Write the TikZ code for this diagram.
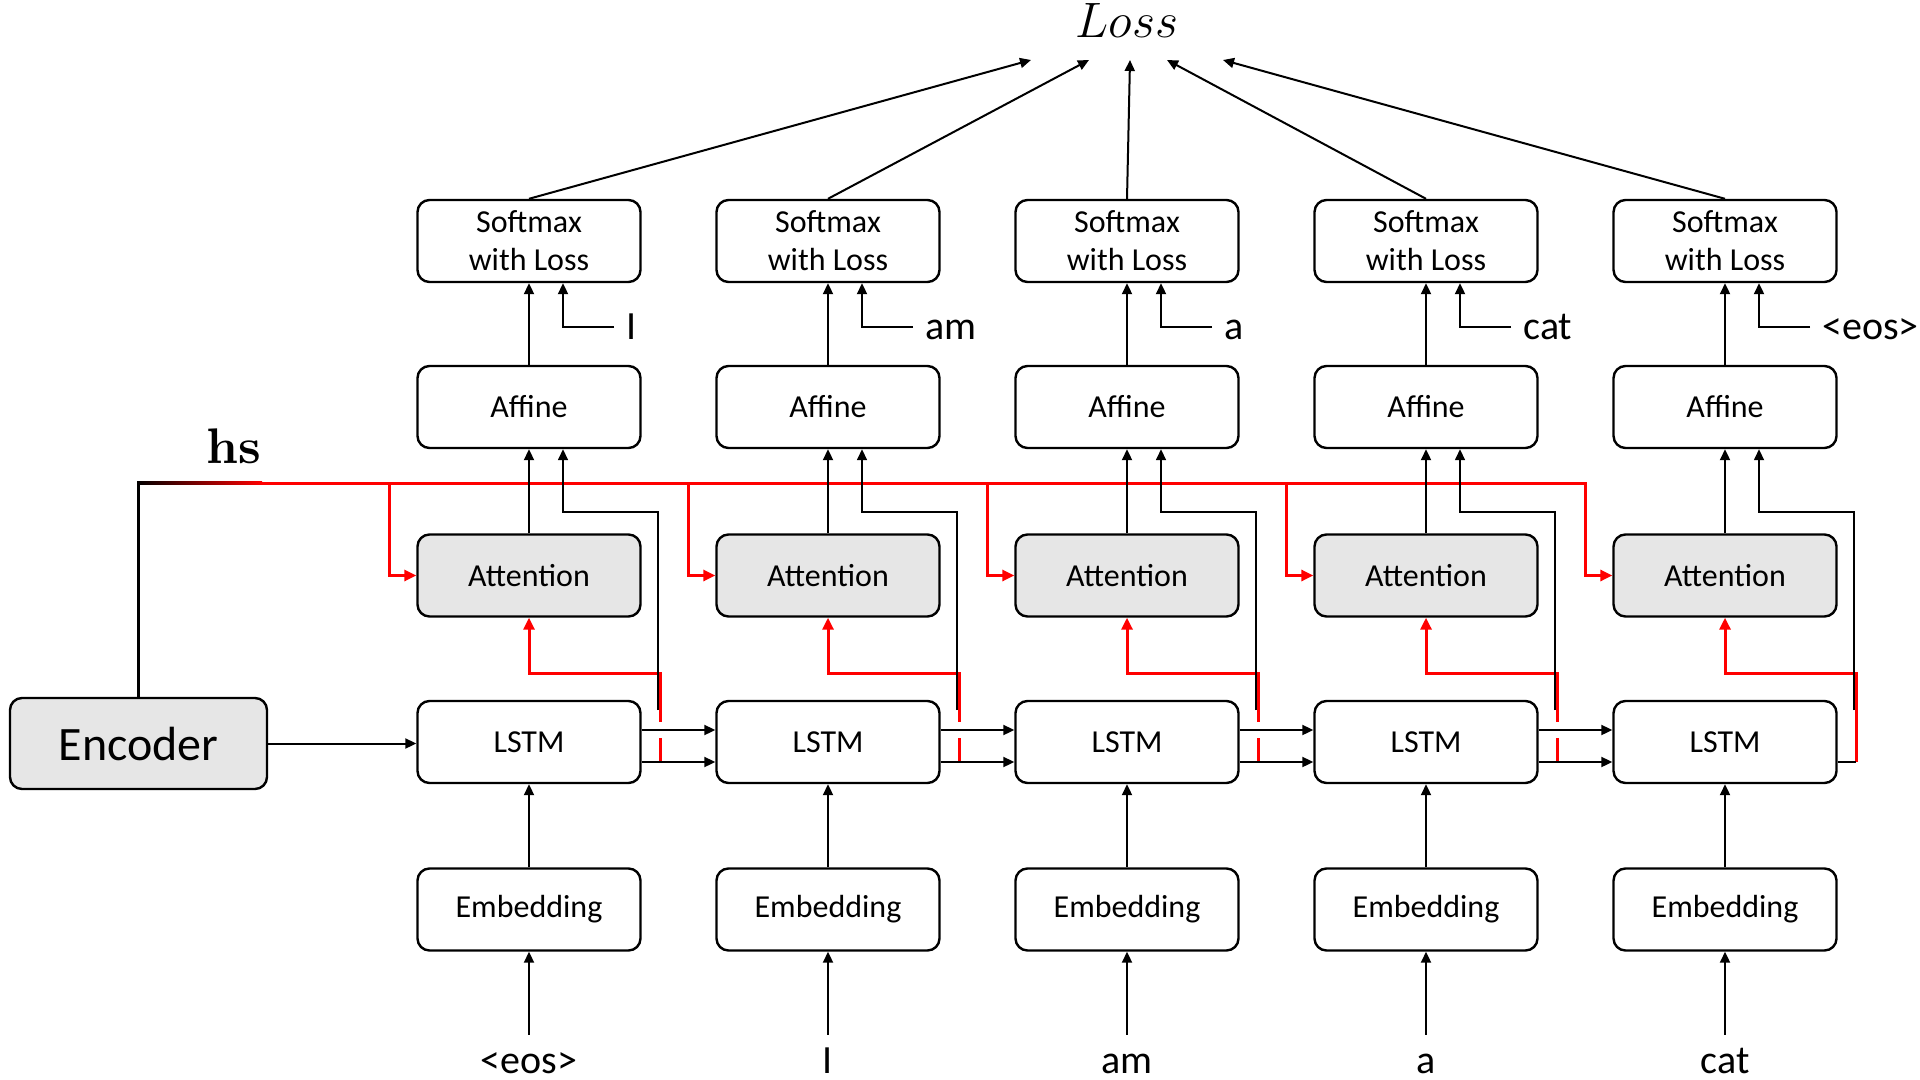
\documentclass[tikz,border=0pt]{standalone}
\usepackage[no-math]{fontspec}
\setmainfont{Carlito}
\newfontfamily\hsfont{lmroman10-bold.otf}
\usetikzlibrary{arrows.meta}

\definecolor{boxgray}{HTML}{E6E6E6}
\definecolor{hsred}{HTML}{FF0000}

\begin{document}
\begin{tikzpicture}[x=0.5pt,y=-0.5pt,>={Triangle[length=5.5pt,width=5pt]}]
		\tikzstyle{BoxStyle}=[draw,line width=1.2pt,rounded corners=6pt,minimum width=111.5pt,minimum height=41pt,inner sep=0pt,align=center,font=\fontsize{16}{19}\selectfont]
		\tikzstyle{GrayBoxStyle}=[BoxStyle,fill=boxgray]
		\tikzstyle{EdgeStyle}=[->,line width=1pt]
		\tikzstyle{ThinEdgeStyle}=[->,line width=0.8pt]
		\tikzstyle{RedEdgeStyle}=[-{Triangle[length=6pt,width=5.5pt]},line width=1.5pt,color=hsred]
		\tikzstyle{TargetStyle}=[anchor=west,inner xsep=6pt,inner ysep=0pt,text height=12.5pt,text depth=0pt,font=\fontsize{20}{24}\selectfont]
		\tikzstyle{WordStyle}=[anchor=base,inner xsep=0pt,inner ysep=5pt,text height=14pt,text depth=0pt,font=\fontsize{20}{24}\selectfont]
		\useasboundingbox (0,0) rectangle (1920,1080);
		% encoder, hs and loss
		\node[GrayBoxStyle,minimum width=128.5pt,minimum height=45.5pt,font=\fontsize{24}{28}\selectfont] (enc) at (138.5,743.5) {Encoder};
		\node[anchor=base,inner sep=0pt,font=\fontsize{24.88}{30}\selectfont] (loss) at (1127,38) {$Loss$};
		\node[anchor=base,inner sep=0pt,font=\hsfont\fontsize{25}{30}\selectfont] (hs) at (234,463) {hs};
		% decoder columns
		\foreach \i/\tgt/\wrd in {1/I/<eos>,2/am/I,3/a/am,4/cat/a,5/<eos>/cat}
		{
			\pgfmathsetmacro{\x}{529+299*(\i-1)}
			\node[BoxStyle] (sm\i) at (\x,241) {Softmax\\with Loss};
			\node[BoxStyle] (af\i) at (\x,407) {Affine};
			\node[GrayBoxStyle] (at\i) at (\x,575.5) {Attention};
			\node[BoxStyle] (ls\i) at (\x,742) {LSTM};
			\node[BoxStyle] (em\i) at (\x,909.5) {Embedding};
			\node[TargetStyle] (tg\i) at ({\x+85},327) {\tgt};
			\node[WordStyle] (wd\i) at (\x,1073) {\wrd};
		}
		% hs line
		\coordinate (hsc) at (138.5,483);
		\draw[line width=1.5pt,line cap=rect] (enc.north) -- (hsc);
		\shade[left color=black,right color=hsred] (137,481.5) rectangle (262,484.5);
		\draw[hsred,line width=1.5pt,line cap=rect] (262,483) -- (1585,483);
		% connectors
		\foreach \i/\lx in {1/1031,2/1089,3/1130,4/1167,5/1223}
		{
			\pgfmathsetmacro{\x}{529+299*(\i-1)}
			\coordinate (lt\i) at (\lx,60);
			\coordinate (hs\i) at ({\x-140},483);
			\coordinate (rv\i) at ({\x+131},762);
			\coordinate (hv\i) at ({\x+129},710);
			\draw[EdgeStyle] (sm\i.north) -- (lt\i);
			\draw[EdgeStyle] (tg\i.west) -| ([xshift=17pt]sm\i.south);
			\draw[EdgeStyle] (af\i.north) -- (sm\i.south);
			\draw[EdgeStyle] (at\i.north) -- (af\i.south);
			\draw[EdgeStyle] (em\i.north) -- (ls\i.south);
			\draw[EdgeStyle] (wd\i.north) -- (em\i.south);
			\draw[RedEdgeStyle] (hs\i) |- (at\i.west);
			\draw[RedEdgeStyle] (rv\i) -- ++(0,-89) -| (at\i.south);
			\draw[ThinEdgeStyle] (hv\i) -- ++(0,-198) -| ([xshift=17pt]af\i.south);
			\ifnum\i<5
				\pgfmathtruncatemacro{\j}{\i+1}
				\draw[EdgeStyle,preaction={draw=white,-,line width=8pt,shorten <=4pt,shorten >=12pt}] ([yshift=6pt]ls\i.east) -- ([yshift=6pt]ls\j.west);
				\draw[EdgeStyle] ([yshift=-10pt]ls\i.east) -- ([yshift=-10pt]ls\j.west);
			\else
				\draw[line width=1pt] ([yshift=-10pt]ls\i.east) -- (rv\i);
			\fi
		}
		\draw[EdgeStyle] (enc.east) -- (enc.east -| ls1.west);
\end{tikzpicture}
\end{document}
